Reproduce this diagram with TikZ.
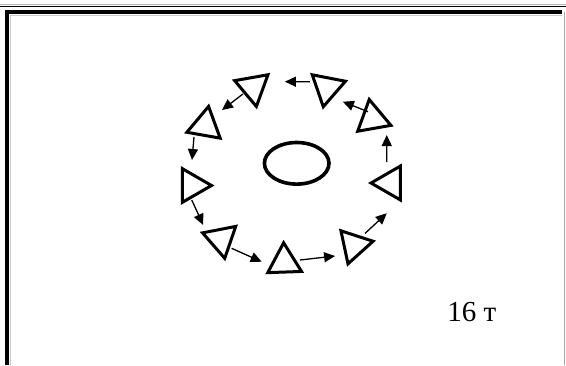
\documentclass[tikz,border=0pt]{standalone}
\usepackage{fontspec}
\setmainfont{Liberation Serif}
\usetikzlibrary{calc,arrows.meta,shapes.geometric}

\begin{document}
\begin{tikzpicture}[x=0.5pt, y=0.5pt,
    tri/.style={draw, regular polygon, regular polygon sides=3, minimum size=19.5pt, inner sep=0pt, line width=1.5pt},
    flow/.style={-{Triangle[length=5.5pt,width=5pt]}, line width=0.65pt}]
  \useasboundingbox (0,0) rectangle (566,365);
  % page rule and frame
  \draw[gray!60, line width=0.5pt] (0,360.5) -- (566,360.5);
  \draw[line width=0.7pt] (0,358.2) -- (566,358.2);
  \draw[line width=2pt] (7,0) -- (7,353) -- (562,353);
  \draw[gray!70, line width=0.5pt] (564.5,353) -- (564.5,0);
  \draw[gray!40, line width=0.4pt] (10.5,0) -- (10.5,349.5) -- (562,349.5);
  % centre
  \node[draw, ellipse, line width=1.8pt, minimum width=32.3pt, minimum height=20.8pt, inner sep=0pt] (core) at (296.7,201.7) {};
  % ring of triangles
  \node[tri, rotate=70]  (t1) at (253,277.7) {};
  \node[tri, rotate=49]  (t2) at (327,277.4) {};
  \node[tri, rotate=10]  (t3) at (372.6,246.3) {};
  \node[tri, rotate=-30] (t4) at (390.5,182) {};
  \node[tri, rotate=42]  (t5) at (354,119.7) {};
  \node[tri, rotate=2]   (t6) at (284.3,102.7) {};
  \node[tri, rotate=71]  (t7) at (221,125.8) {};
  \node[tri, rotate=30]  (t8) at (192,179.5) {};
  \node[tri, rotate=-10] (t9) at (205.2,239.4) {};
  \draw[flow] ($(t2)+(161:18.2)$) -- ($(t1)+(10:32.4)$);
  \draw[flow] ($(t1)+(213.6:12.1)$) -- ($(t9)+(42.9:22.9)$);
  \draw[flow] ($(t9)+(225.5:16)$) -- ($(t8)+(90:25.5)$);
  \draw[flow] ($(t8)+(269:14.5)$) -- ($(t7)+(141.4:22.8)$);
  \draw[flow] ($(t7)+(319.4:14)$) -- ($(t6)+(178.5:22.6)$);
  \draw[flow] ($(t6)+(8.3:15.9)$) -- ($(t5)+(209.5:21.7)$);
  \draw[flow] ($(t5)+(47.2:16.3)$) -- ($(t4)+(262.9:30.5)$);
  \draw[flow] ($(t4)+(100:21.3)$) -- ($(t3)+(310.9:21.6)$);
  \draw[flow] ($(t3)+(123.3:8.4)$) -- ($(t2)+(318.3:21.2)$);
  % load
  \node[font=\fontsize{14.5}{17}\selectfont, anchor=base west, inner sep=0pt] (mass) at (447,44) {16 т};
\end{tikzpicture}
\end{document}
